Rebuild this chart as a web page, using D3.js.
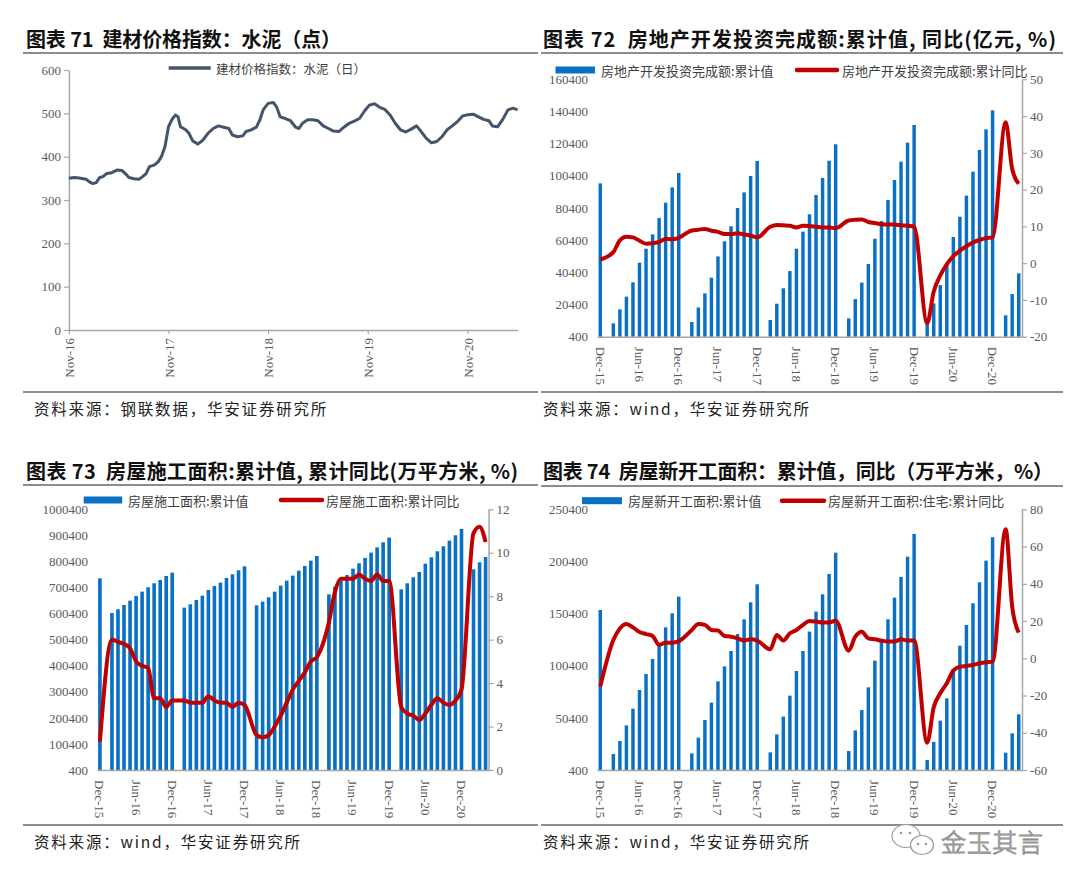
<!DOCTYPE html>
<html>
<head>
<meta charset="utf-8">
<script src="https://cdn.jsdelivr.net/npm/d3@7"></script>
<style>
  body { margin: 0; background: #fff; }
  .cn { font-family: "Noto Sans CJK SC", sans-serif; white-space: pre; }
</style>
</head>
<body>
<div id="chart"></div>
<script>
// ---- data ----
// 图表71 水泥价格指数
const cementDates = ["2016-11-01","2016-11-20","2016-12-08","2017-01-03","2017-01-15","2017-01-28","2017-02-09","2017-02-22","2017-03-06","2017-03-19",
  "2017-04-07","2017-04-26","2017-05-15","2017-05-27","2017-06-09","2017-06-28","2017-07-17","2017-07-29","2017-08-11","2017-08-23",
  "2017-09-11","2017-09-24","2017-10-06","2017-10-19","2017-11-01","2017-11-14","2017-11-26","2017-12-06","2017-12-15","2018-01-03",
  "2018-01-15","2018-01-28","2018-02-16","2018-03-07","2018-03-26","2018-04-14","2018-05-03","2018-05-22","2018-06-10","2018-06-23",
  "2018-07-12","2018-07-31","2018-08-12","2018-08-31","2018-09-19","2018-10-02","2018-10-14","2018-11-01","2018-11-20","2018-12-02",
  "2018-12-15","2019-01-03","2019-01-22","2019-02-10","2019-02-22","2019-03-07","2019-03-26","2019-04-14","2019-05-03","2019-05-22",
  "2019-06-10","2019-06-29","2019-07-18","2019-08-06","2019-08-25","2019-09-13","2019-10-02","2019-10-21","2019-11-07","2019-11-26",
  "2019-12-15","2020-01-03","2020-01-22","2020-02-10","2020-02-29","2020-03-19","2020-04-07","2020-04-28","2020-05-15","2020-06-03",
  "2020-06-22","2020-07-11","2020-07-30","2020-08-18","2020-09-06","2020-09-25","2020-10-14","2020-11-03","2020-11-22","2020-12-11",
  "2020-12-30","2021-01-18","2021-01-31","2021-02-19","2021-03-10","2021-03-29","2021-04-17","2021-05-03"];
const cementValues = [350,352,351,348,342,338,340,352,354,361,
  363,369,368,361,352,349,348,354,361,377,
  381,388,400,423,469,486,496,492,469,462,
  454,437,429,438,454,465,471,468,465,450,
  446,448,458,462,468,485,508,523,525,515,
  492,488,483,468,465,477,485,485,483,471,
  465,459,458,468,477,482,488,506,519,522,
  514,509,496,477,462,457,463,471,458,442,
  432,435,446,462,471,481,494,497,498,492,
  486,483,471,469,486,508,512,508];
const cementTicks = [0,100,200,300,400,500,600];
const cementXTicks = ["2016-11-01","2017-11-01","2018-11-01","2019-11-01","2020-11-01"];
const cementXLabels = ["Nov-16","Nov-17","Nov-18","Nov-19","Nov-20"];

// 月度类目 Dec-15 ... Apr-21, 1月无数据 (null)
const monthKeys = d3.timeMonth.range(new Date(2015, 11, 1), new Date(2021, 4, 1)).map(d3.timeFormat("%Y-%m"));
const monthTickKeys = ["2015-12","2016-06","2016-12","2017-06","2017-12","2018-06","2018-12","2019-06","2019-12","2020-06","2020-12"];
const monthTickLabels = ["Dec-15","Jun-16","Dec-16","Jun-17","Dec-17","Jun-18","Dec-18","Jun-19","Dec-19","Jun-20","Dec-20"];

// 图表72 房地产开发投资完成额
const investValues = [95700,
  null, 8700, 17400, 25300, 34200, 46400, 55100, 64000, 74200, 83700, 93200, 102200,
  null, 9500, 18600, 27300, 37100, 50300, 59700, 69000, 80400, 90100, 100300, 109600,
  null, 10800, 20900, 30500, 41200, 55100, 65700, 76500, 88500, 99100, 109800, 120000,
  null, 11800, 23800, 34000, 45600, 61300, 72300, 85400, 97800, 109200, 121000, 132000,
  null, 10800, 21100, 32500, 46000, 62400, 75000, 88100, 103000, 116500, 129300, 141100,
  null, 13700, 26900, 39800];
const investYoy = [1.0,
  null, 3.0, 6.2, 7.2, 7.0, 6.1, 5.3, 5.4, 5.8, 6.6, 6.5, 6.9,
  null, 8.9, 9.1, 9.3, 8.8, 8.5, 7.9, 7.9, 8.1, 7.8, 7.5, 7.0,
  null, 9.9, 10.4, 10.3, 10.2, 9.7, 10.2, 10.1, 9.9, 9.7, 9.7, 9.5,
  null, 11.6, 11.8, 11.9, 11.2, 10.9, 10.6, 10.5, 10.5, 10.3, 10.2, 9.9,
  null, -16.3, -7.7, -3.3, -0.3, 1.9, 3.4, 4.6, 5.6, 6.3, 6.8, 7.0,
  null, 38.3, 25.6, 21.6];
const investTicks = [400,20400,40400,60400,80400,100400,120400,140400,160400];
const investYoyTicks = [-20,-10,0,10,20,30,40,50];

// 图表73 房屋施工面积
const constrValues = [735700,
  null, 602700, 616800, 633400, 650000, 668000, 684600, 701200, 716500, 729300, 744700, 757500,
  null, 623200, 636000, 652600, 669200, 691000, 706300, 719100, 737000, 751100, 766400, 781700,
  null, 632100, 646200, 662800, 684600, 707600, 726800, 746000, 765100, 783000, 803500, 821400,
  null, 674300, 703700, 725500, 748500, 772800, 793300, 813700, 834200, 854600, 873800, 891700,
  null, 693500, 716500, 739600, 760000, 792000, 816300, 839300, 858500, 880200, 900700, 925000,
  null, 770200, 797100, 817500];
const constrYoy = [1.3,
  null, 6.0, 5.9, 5.8, 5.6, 5.0, 4.8, 4.7, 3.3, 3.3, 2.9, 3.2,
  null, 3.2, 3.1, 3.1, 3.1, 3.4, 3.2, 3.1, 3.1, 2.9, 3.1, 3.0,
  null, 1.6, 1.5, 1.6, 2.0, 2.5, 3.1, 3.7, 4.1, 4.5, 5.0, 5.2,
  null, 6.8, 8.2, 8.8, 8.8, 8.8, 9.0, 8.8, 8.7, 9.0, 8.7, 8.7,
  null, 2.9, 2.6, 2.5, 2.3, 2.6, 3.0, 3.3, 3.1, 3.0, 3.2, 3.7,
  null, 10.9, 11.2, 10.5];
const constrTicks = [400,100400,200400,300400,400400,500400,600400,700400,800400,900400,1000400];
const constrYoyTicks = [0,2,4,6,8,10,12];

// 图表74 房屋新开工面积
const startValues = [153900,
  null, 15700, 28200, 43200, 59200, 77100, 92500, 106900, 121900, 137200, 150700, 166600,
  null, 16400, 31400, 48400, 65000, 85400, 99800, 114500, 130800, 144900, 161200, 178500,
  null, 17300, 34600, 51600, 71700, 95400, 114500, 133100, 152300, 168900, 188400, 208800,
  null, 18600, 38400, 57900, 79700, 105300, 125700, 144900, 165700, 185500, 205000, 226800,
  null, 10000, 27300, 47700, 69100, 97300, 119600, 139500, 160300, 180400, 201200, 223600,
  null, 17000, 35600, 53800];
const startYoy = [-15.2,
  null, 9.8, 16.0, 18.4, 16.6, 14.1, 13.0, 12.0, 7.2, 8.4, 8.4, 9.1,
  null, 15.2, 18.4, 17.9, 15.2, 14.9, 12.0, 11.6, 10.7, 9.5, 10.2, 9.5,
  null, 4.8, 12.5, 9.5, 13.4, 15.2, 17.9, 20.0, 19.7, 19.2, 19.2, 20.2,
  null, 4.1, 11.6, 14.3, 10.7, 10.2, 9.5, 9.0, 9.0, 10.2, 9.5, 9.5,
  null, -45.3, -26.3, -18.8, -13.4, -6.6, -4.5, -4.1, -3.6, -2.7, -2.1, -1.8,
  null, 69.3, 27.7, 13.8];
const startTicks = [400,50400,100400,150400,200400,250400];
const startYoyTicks = [-60,-40,-20,0,20,40,60,80];

// ---- drawing ----
const BLUE = "#0a70c4", RED = "#c00000", AXIS = "#a6a6a6", TICKTXT = "#595959", RULE = "#8c8c8c";
const plain = d => String(d);   // 原图无千分位, 负号为 "-"

const svg = d3.select("#chart").append("svg")
  .attr("width", 1080).attr("height", 888)
  .style("background", "#fff");

function header(x, y, text, width) {
  svg.append("text").attr("class", "cn")
    .attr("x", x).attr("y", y)
    .attr("dominant-baseline", "central")
    .attr("font-size", 20).attr("font-weight", 700).attr("fill", "#111")
    .attr("textLength", width).attr("lengthAdjust", "spacing")
    .text(text);
}
function rule(x1, x2, y) {
  svg.append("line").attr("x1", x1).attr("x2", x2).attr("y1", y).attr("y2", y)
    .attr("stroke", RULE).attr("stroke-width", 2);
}
function source(x, y, text) {
  svg.append("text").attr("class", "cn")
    .attr("x", x).attr("y", y)
    .attr("dominant-baseline", "central")
    .attr("font-size", 15.5).attr("letter-spacing", 1.8).attr("fill", "#222")
    .text(text);
}
function styleAxis(g) {
  g.attr("font-family", "Liberation Serif, serif").attr("font-size", 13);
  g.selectAll("text").attr("fill", TICKTXT);
  g.selectAll("line").attr("stroke", AXIS).attr("stroke-width", 1.2);
  g.select(".domain").attr("stroke", AXIS).attr("stroke-width", 1.5);
}

// titles, rules, sources
header(26, 38, "图表 71  建材价格指数：水泥（点）", 315);
header(543, 38, "图表 72  房地产开发投资完成额:累计值, 同比(亿元, %)", 513);
header(26, 470, "图表 73  房屋施工面积:累计值, 累计同比(万平方米, %)", 492);
header(543, 470, "图表 74  房屋新开工面积：累计值，同比（万平方米，%）", 510);
rule(23, 538, 53); rule(541, 1063, 53);
rule(23, 538, 485); rule(541, 1063, 486);
rule(23, 538, 392); rule(541, 1063, 392);
rule(23, 538, 825); rule(541, 1063, 825);
source(34, 408, "资料来源：钢联数据，华安证券研究所");
source(543, 408, "资料来源：wind，华安证券研究所");
source(34, 841, "资料来源：wind，华安证券研究所");
source(543, 841, "资料来源：wind，华安证券研究所");

// ---- chart 71 ----
(function () {
  const parse = d3.timeParse("%Y-%m-%d");
  const pts = cementDates.map((d, i) => ({ date: parse(d), v: cementValues[i] }));
  const x = d3.scaleTime().domain([parse("2016-11-01"), parse("2021-05-03")]).range([68.9, 517.5]);
  const y = d3.scaleLinear().domain([0, 600]).range([330, 70]);

  const gy = svg.append("g").attr("transform", "translate(68.9,0)")
    .call(d3.axisLeft(y).tickValues(cementTicks).tickFormat(plain).tickSize(5).tickPadding(3).tickSizeOuter(0));
  styleAxis(gy);

  const gx = svg.append("g").attr("transform", "translate(0,330)")
    .call(d3.axisBottom(x).tickValues(cementXTicks.map(parse))
      .tickFormat((d, i) => cementXLabels[i]).tickSize(4).tickSizeOuter(0));
  styleAxis(gx);
  gx.selectAll("text").attr("transform", "rotate(-90)").attr("text-anchor", "end")
    .attr("x", -8).attr("y", 0).attr("dy", "0.35em");

  svg.append("path").datum(pts)
    .attr("fill", "none").attr("stroke", "#44546a").attr("stroke-width", 3)
    .attr("stroke-linejoin", "round")
    .attr("d", d3.line().x(d => x(d.date)).y(d => y(d.v)));

  svg.append("line").attr("x1", 168.7).attr("x2", 210.7).attr("y1", 68).attr("y2", 68)
    .attr("stroke", "#44546a").attr("stroke-width", 3.5);
  svg.append("text").attr("class", "cn").attr("x", 216).attr("y", 68)
    .attr("dominant-baseline", "central").attr("font-size", 12.5).attr("fill", "#404040")
    .text("建材价格指数：水泥（日）");
})();

// ---- combo charts 72/73/74 ----
function combo(o) {
  const x = d3.scaleBand().domain(monthKeys).range([o.x0, o.x1])
    .paddingInner(o.pad).paddingOuter(o.pad / 2);
  const yL = d3.scaleLinear().domain(o.leftDomain).range([o.yBottom, o.yTop]);
  const yR = d3.scaleLinear().domain(o.rightDomain).range([o.yBottom, o.yTop]);

  const bars = monthKeys.map((k, i) => ({ k, v: o.bars[i] })).filter(d => d.v != null);
  const line = monthKeys.map((k, i) => ({ k, v: o.line[i] })).filter(d => d.v != null);

  svg.append("g").selectAll("rect").data(bars).join("rect")
    .attr("x", d => x(d.k)).attr("width", x.bandwidth())
    .attr("y", d => yL(d.v)).attr("height", d => yL(o.leftDomain[0]) - yL(d.v))
    .attr("fill", BLUE);

  const gl = svg.append("g").attr("transform", `translate(${o.labelRight},0)`)
    .call(d3.axisLeft(yL).tickValues(o.leftTicks).tickFormat(plain).tickSize(0).tickPadding(0));
  styleAxis(gl);
  gl.select(".domain").remove();

  const gr = svg.append("g").attr("transform", `translate(${o.x1},0)`)
    .call(d3.axisRight(yR).tickValues(o.rightTicks).tickFormat(plain).tickSize(5).tickPadding(3).tickSizeOuter(0));
  styleAxis(gr);

  const gb = svg.append("g").attr("transform", `translate(0,${o.yBottom})`)
    .call(d3.axisBottom(x).tickValues(monthTickKeys)
      .tickFormat((d, i) => monthTickLabels[i]).tickSize(0).tickSizeOuter(0));
  styleAxis(gb);
  gb.selectAll("text").attr("transform", "rotate(90)").attr("text-anchor", "start")
    .attr("x", 10).attr("y", 0).attr("dy", "0.35em");

  svg.append("path").datum(line)
    .attr("fill", "none").attr("stroke", RED).attr("stroke-width", 4)
    .attr("stroke-linejoin", "round")
    .attr("d", d3.line().x(d => x(d.k) + x.bandwidth() / 2).y(d => yR(d.v)).curve(d3.curveMonotoneX));

  // legend
  const lg = o.legend;
  svg.append("rect").attr("x", lg.rx).attr("y", lg.y - 3.5).attr("width", lg.rw).attr("height", 7).attr("fill", BLUE);
  svg.append("text").attr("class", "cn").attr("x", lg.tx1).attr("y", lg.y)
    .attr("dominant-baseline", "central").attr("font-size", 13).attr("fill", "#404040").text(lg.t1);
  svg.append("line").attr("x1", lg.lx).attr("x2", lg.lx + lg.lw).attr("y1", lg.y).attr("y2", lg.y)
    .attr("stroke", RED).attr("stroke-width", 4.5).attr("stroke-linecap", "round");
  svg.append("text").attr("class", "cn").attr("x", lg.tx2).attr("y", lg.y)
    .attr("dominant-baseline", "central").attr("font-size", 13).attr("fill", "#404040").text(lg.t2);
}

combo({
  x0: 597, x1: 1022, yTop: 79.3, yBottom: 336.7, pad: 0.47, labelRight: 588,
  leftDomain: [400, 160400], rightDomain: [-20, 50],
  leftTicks: investTicks, rightTicks: investYoyTicks,
  bars: investValues, line: investYoy,
  legend: { y: 70, rx: 555.5, rw: 39.5, tx1: 601, t1: "房地产开发投资完成额:累计值",
            lx: 797, lw: 40, tx2: 842, t2: "房地产开发投资完成额:累计同比" }
});
combo({
  x0: 96.9, x1: 488.6, yTop: 509.3, yBottom: 770, pad: 0.4, labelRight: 88,
  leftDomain: [400, 1000400], rightDomain: [0, 12],
  leftTicks: constrTicks, rightTicks: constrYoyTicks,
  bars: constrValues, line: constrYoy,
  legend: { y: 500, rx: 83.7, rw: 38.5, tx1: 128, t1: "房屋施工面积:累计值",
            lx: 281, lw: 41, tx2: 326, t2: "房屋施工面积:累计同比" }
});
combo({
  x0: 597, x1: 1022, yTop: 509.3, yBottom: 770, pad: 0.47, labelRight: 588,
  leftDomain: [400, 250400], rightDomain: [-60, 80],
  leftTicks: startTicks, rightTicks: startYoyTicks,
  bars: startValues, line: startYoy,
  legend: { y: 500.7, rx: 582, rw: 40, tx1: 628, t1: "房屋新开工面积:累计值",
            lx: 782, lw: 42, tx2: 828, t2: "房屋新开工面积:住宅:累计同比" }
});

// watermark
const wm = svg.append("g").attr("fill", "#fff").attr("stroke", "#9a9a9a").attr("stroke-width", 1.2);
wm.append("ellipse").attr("cx", 906).attr("cy", 836).attr("rx", 14).attr("ry", 11.5);
wm.append("ellipse").attr("cx", 922).attr("cy", 845).attr("rx", 11.5).attr("ry", 9.5);
[[901, 833], [910, 833], [918, 844], [926, 844]].forEach(p =>
  svg.append("circle").attr("cx", p[0]).attr("cy", p[1]).attr("r", 1.3).attr("fill", "#9a9a9a"));
svg.append("text").attr("class", "cn").attr("x", 941).attr("y", 841)
  .attr("dominant-baseline", "central").attr("font-size", 25).attr("font-weight", 300)
  .attr("fill", "#fff").attr("stroke", "#8a8a8a").attr("stroke-width", 0.9)
  .attr("textLength", 102).text("金玉其言");
</script>
</body>
</html>
